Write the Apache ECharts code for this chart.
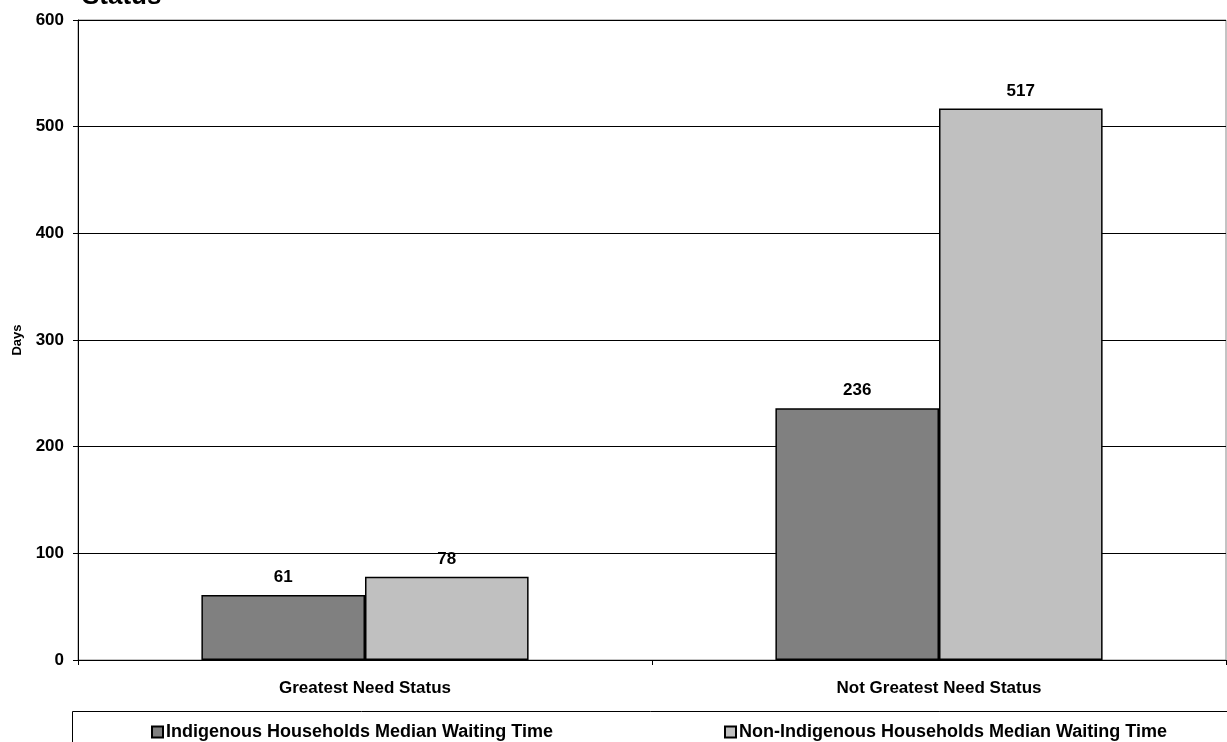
<!DOCTYPE html>
<html>
<head>
<meta charset="utf-8">
<script src="https://cdn.jsdelivr.net/npm/echarts@6/dist/echarts.min.js"></script>
<style>html,body{margin:0;padding:0;background:#fff;}#c{width:1227px;height:742px;}</style>
</head>
<body>
<div id="c"></div>
<script>
const categories = ['Greatest Need Status', 'Not Greatest Need Status'];
const seriesNames = ['Indigenous Households Median Waiting Time', 'Non-Indigenous Households Median Waiting Time'];
const indigenous = [61, 236];
const nonIndigenous = [78, 517];
const yTicks = [0, 100, 200, 300, 400, 500, 600];

const font = 'Liberation Sans, Arial, sans-serif';
const chart = echarts.init(document.getElementById('c'));
const labelStyle = {show: true, position: 'top', distance: 9, color: '#000', fontWeight: 'bold', fontSize: 17, fontFamily: font};
chart.setOption({
  animation: false,
  backgroundColor: '#fff',
  title: {text: 'Status', left: 77, top: -21, textStyle: {fontFamily: font, fontWeight: 'bold', fontSize: 26, color: '#000'}},
  graphic: [{type: 'rect', shape: {x: 72.5, y: 711.5, width: 1170, height: 60}, style: {fill: 'none', stroke: '#000', lineWidth: 1}, z: -1}],
  legend: [
    {data: [seriesNames[0]], left: 146, top: 718, icon: 'rect', itemWidth: 11, itemHeight: 11, itemGap: 4,
     textStyle: {fontFamily: font, fontWeight: 'bold', fontSize: 18, color: '#000', padding: [0,0,0,-2]}},
    {data: [seriesNames[1]], left: 719, top: 718, icon: 'rect', itemWidth: 11, itemHeight: 11, itemGap: 4,
     textStyle: {fontFamily: font, fontWeight: 'bold', fontSize: 18, color: '#000', padding: [0,0,0,-2]}}
  ],
  grid: {left: 78, right: 1, top: 20, bottom: 82, show: true, borderColor: '#888', borderWidth: 1},
  xAxis: {type: 'category', data: categories,
    axisLine: {lineStyle: {color: '#000', width: 1}},
    axisTick: {show: true, alignWithLabel: false, length: 5, lineStyle: {color: '#000'}},
    axisLabel: {color: '#000', fontWeight: 'bold', fontSize: 17, fontFamily: font, margin: 20}},
  yAxis: {type: 'value', min: 0, max: 600, interval: 100,
    name: 'Days', nameLocation: 'middle', nameGap: 54, nameRotate: 90,
    nameTextStyle: {color: '#000', fontWeight: 'bold', fontSize: 13, fontFamily: font},
    axisLine: {show: true, lineStyle: {color: '#000', width: 1}},
    axisTick: {show: true, length: 5, lineStyle: {color: '#000'}},
    splitLine: {lineStyle: {color: '#000', width: 1}},
    axisLabel: {color: '#000', fontWeight: 'bold', fontSize: 17, fontFamily: font, margin: 14,
      formatter: v => yTicks.includes(v) ? String(v) : ''}},
  series: [
    {name: seriesNames[0], type: 'bar', data: indigenous, barGap: '0%', barCategoryGap: '43%',
     itemStyle: {color: '#808080', borderColor: '#000', borderWidth: 1.5}, label: labelStyle},
    {name: seriesNames[1], type: 'bar', data: nonIndigenous, barGap: '0%', barCategoryGap: '43%',
     itemStyle: {color: '#c0c0c0', borderColor: '#000', borderWidth: 1.5}, label: labelStyle}
  ]
});
</script>
</body>
</html>
